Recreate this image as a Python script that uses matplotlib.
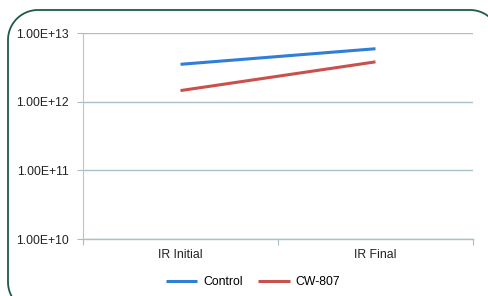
import matplotlib
matplotlib.use("Agg")
import numpy as np
import matplotlib.pyplot as plt
from matplotlib.lines import Line2D
from matplotlib.ticker import FixedLocator

categories = ["IR Initial", "IR Final"]
control = [3.5e12, 5.9e12]
cw807 = [1.45e12, 3.8e12]
ytick_vals = [1e10, 1e11, 1e12, 1e13]
ytick_labels = ["1.00E+10", "1.00E+11", "1.00E+12", "1.00E+13"]

plt.rcParams['font.family'] = ['Liberation Sans', 'DejaVu Sans']

W, H = 488, 296
fig = plt.figure(figsize=(W/100, H/100), dpi=100)
fig.patch.set_facecolor("white")

# rounded border, open path in pixel coordinates (y measured from top)
r = 30
left, top, right, bottom = 8, 10, 500, 312
def arc(cx, cy, a0, a1, n=30):
    t = np.radians(np.linspace(a0, a1, n))
    return cx + r*np.cos(t), cy - r*np.sin(t)
bx1, by1 = arc(right - r, top + r, 0, 90)       # top-right corner
bx2, by2 = arc(left + r, top + r, 90, 180)      # top-left corner
bx3, by3 = arc(left + r, bottom - r, 180, 270)  # bottom-left corner
bx = np.concatenate([bx1, bx2, bx3])
by = np.concatenate([by1, by2, by3])
border = Line2D(bx / W, 1 - by / H, transform=fig.transFigure, color="#1f5a45",
                linewidth=1.3, solid_capstyle="butt")
fig.lines.append(border)

ax = fig.add_axes([83/W, 1-239/H, (473-83)/W, (239-33)/H])
x = list(range(len(categories)))
ax.plot(x, control, color="#2f7fd6", linewidth=2.2, label="Control", solid_capstyle="butt")
ax.plot(x, cw807, color="#c9504b", linewidth=2.2, label="CW-807", solid_capstyle="butt")

ax.set_yscale("log")
ax.set_ylim(1e10, 1e13)
ax.set_xlim(-0.5, 1.5)
ax.yaxis.set_major_locator(FixedLocator(ytick_vals))
ax.set_yticklabels(ytick_labels)
ax.yaxis.set_minor_locator(FixedLocator([]))
ax.set_xticks(x)
ax.set_xticklabels(categories)
ax.set_xticks([-0.5, 0.5, 1.5], minor=True)
ax.tick_params(axis="x", which="major", length=0, pad=7, labelsize=8.8, colors="#222222")
ax.tick_params(axis="x", which="minor", length=4, color="#a9bcc6", width=0.8)
ax.tick_params(axis="y", which="major", length=4, color="#a9bcc6", width=0.8, labelsize=8.8,
               pad=6)
ax.tick_params(axis="y", colors="#a9bcc6", labelcolor="#222222")

for y in ytick_vals:
    ax.axhline(y, color="#a9c0c8", linewidth=1.0, zorder=0)

for s in ["top", "right"]:
    ax.spines[s].set_visible(False)
ax.spines["left"].set_color("#b8c6cc")
ax.spines["bottom"].set_color("#a9c0c8")
ax.spines["left"].set_linewidth(0.8)
ax.spines["bottom"].set_linewidth(1.0)

leg = fig.legend(loc="center", bbox_to_anchor=(253/W, 1-282/H), ncol=2, frameon=False,
                 fontsize=8.8, handlelength=2.6, handletextpad=0.5, columnspacing=1.2)

fig.savefig("out.png", dpi=100, facecolor="white")
